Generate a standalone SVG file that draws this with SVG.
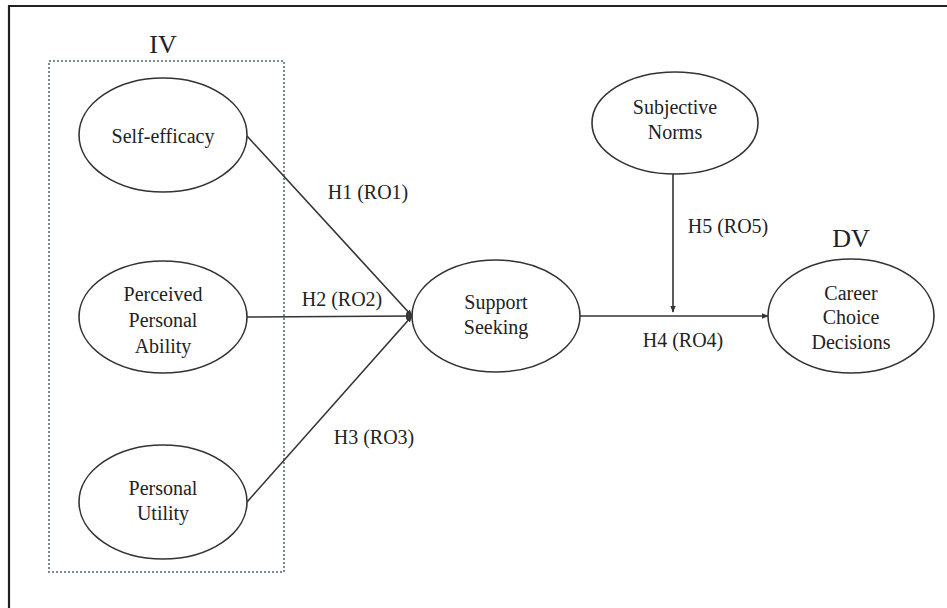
<svg xmlns="http://www.w3.org/2000/svg" width="947" height="608" viewBox="0 0 947 608" font-family="'Liberation Serif', 'Times New Roman', 'DejaVu Serif', serif">
<style>
  .node ellipse { fill: #ffffff; stroke: #333333; stroke-width: 1.6; }
  text { font-family: 'Liberation Serif', 'Times New Roman', 'DejaVu Serif', serif; fill: #222222; text-anchor: middle; }
  .nt { font-size: 20px; }
  .lbl { font-size: 20px; }
  .big { font-size: 26px; }
  .conn line { stroke: #333333; stroke-width: 1.6; fill: none; }
</style>
<defs>
  <marker id="arr" viewBox="0 0 10 10" refX="9" refY="5" markerWidth="7" markerHeight="7" markerUnits="userSpaceOnUse" orient="auto">
    <path d="M0,1 L10,5 L0,9 Z" fill="#333333"/>
  </marker>
</defs>
<rect x="0" y="0" width="947" height="608" fill="#ffffff"/>
<polyline points="9,608 9,6 947,6" fill="none" stroke="#222222" stroke-width="2.2"/>

<g id="iv-group">
  <rect x="49" y="61" width="235" height="511" fill="none" stroke="#7d8b99" stroke-width="2" stroke-dasharray="2,2"/>
  <text class="big" x="163" y="53">IV</text>
</g>
<text class="big" x="851" y="247" id="dv-label">DV</text>

<g class="conn" id="connectors">
  <line x1="247" y1="136" x2="412" y2="316" marker-end="url(#arr)"/>
  <line x1="247" y1="317" x2="412" y2="316" marker-end="url(#arr)"/>
  <line x1="247" y1="502" x2="412" y2="316" marker-end="url(#arr)"/>
  <line x1="579" y1="316" x2="768" y2="316" marker-end="url(#arr)"/>
  <line x1="673" y1="174" x2="673" y2="312" marker-end="url(#arr)"/>
  <text class="lbl" x="368" y="199">H1 (RO1)</text>
  <text class="lbl" x="342" y="306">H2 (RO2)</text>
  <text class="lbl" x="374" y="444">H3 (RO3)</text>
  <text class="lbl" x="683" y="347">H4 (RO4)</text>
  <text class="lbl" x="728" y="233">H5 (RO5)</text>
</g>

<g class="node" id="self-efficacy">
  <ellipse cx="163" cy="135" rx="84" ry="57"/>
  <text class="nt" x="163" y="143">Self-efficacy</text>
</g>
<g class="node" id="perceived-personal-ability">
  <ellipse cx="163" cy="317" rx="84" ry="56"/>
  <text class="nt" x="163" y="301">Perceived</text>
  <text class="nt" x="163" y="327">Personal</text>
  <text class="nt" x="163" y="353">Ability</text>
</g>
<g class="node" id="personal-utility">
  <ellipse cx="163" cy="502" rx="84" ry="57"/>
  <text class="nt" x="163" y="495">Personal</text>
  <text class="nt" x="163" y="520">Utility</text>
</g>
<g class="node" id="support-seeking">
  <ellipse cx="496" cy="316" rx="84" ry="56"/>
  <text class="nt" x="496" y="309">Support</text>
  <text class="nt" x="496" y="334">Seeking</text>
</g>
<g class="node" id="subjective-norms">
  <ellipse cx="675" cy="123" rx="83" ry="51"/>
  <text class="nt" x="675" y="114">Subjective</text>
  <text class="nt" x="675" y="139">Norms</text>
</g>
<g class="node" id="career-choice-decisions">
  <ellipse cx="851" cy="316" rx="83" ry="57"/>
  <text class="nt" x="851" y="300">Career</text>
  <text class="nt" x="851" y="324">Choice</text>
  <text class="nt" x="851" y="349">Decisions</text>
</g>
</svg>
